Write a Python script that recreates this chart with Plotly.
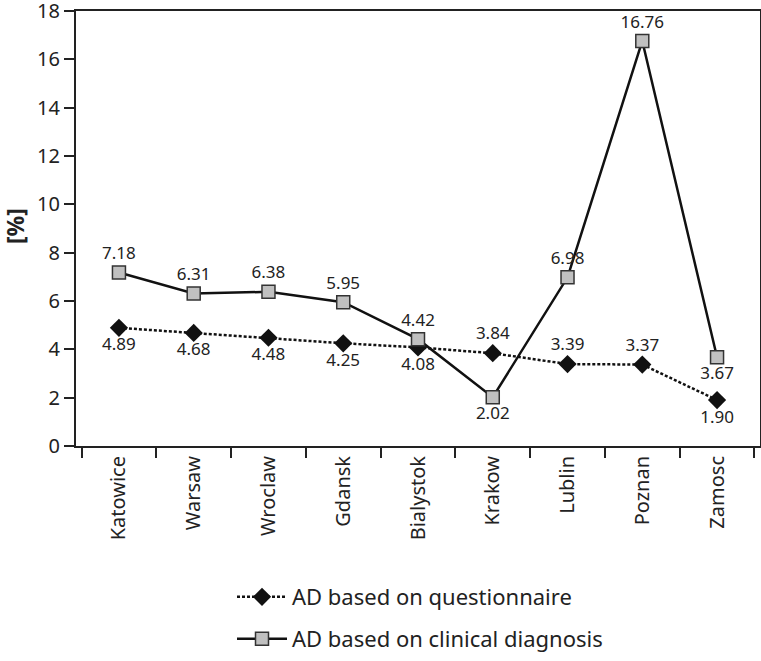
import plotly.graph_objects as go

cities = ["Katowice", "Warsaw", "Wroclaw", "Gdansk", "Bialystok", "Krakow", "Lublin", "Poznan", "Zamosc"]
questionnaire = [4.89, 4.68, 4.48, 4.25, 4.08, 3.84, 3.39, 3.37, 1.90]
clinical = [7.18, 6.31, 6.38, 5.95, 4.42, 2.02, 6.98, 16.76, 3.67]
y_ticks = [0, 2, 4, 6, 8, 10, 12, 14, 16, 18]

q_pos = ["bottom center"] * 5 + ["top center"] * 3 + ["bottom center"]
c_pos = ["top center"] * 5 + ["bottom center", "top center", "top center", "bottom center"]

FONT = "Noto Sans"
fig = go.Figure()
fig.add_trace(go.Scatter(
    x=cities, y=questionnaire, mode="lines+markers+text",
    name="AD based on questionnaire",
    line=dict(color="#111", width=2.5, dash="3px,2px"),
    marker=dict(symbol="diamond", size=14, color="#111"),
    text=[f"{v:.2f}" for v in questionnaire], textposition=q_pos,
    textfont=dict(size=17, color="#222", family=FONT),
    cliponaxis=False, legend="legend",
))
fig.add_trace(go.Scatter(
    x=cities, y=clinical, mode="lines+markers+text",
    name="AD based on clinical diagnosis",
    line=dict(color="#111", width=2.5),
    marker=dict(symbol="square", size=13, color="#c0c0c0", line=dict(color="#333", width=1.5)),
    text=[f"{v:.2f}" for v in clinical], textposition=c_pos,
    textfont=dict(size=17, color="#222", family=FONT),
    cliponaxis=False, legend="legend2",
))

fig.add_annotation(
    text="<b>[%]</b>", xref="paper", yref="paper",
    x=(15 - 76) / 684, y=(446 - 226) / 435, textangle=-90,
    showarrow=False, font=dict(size=23, family=FONT, color="#222"),
    xanchor="center", yanchor="middle",
)

fig.update_layout(
    width=761, height=661,
    margin=dict(l=76, r=1, t=11, b=215, autoexpand=False),
    paper_bgcolor="white", plot_bgcolor="white",
    font=dict(family=FONT, color="#222", size=18),
    showlegend=True,
    legend=dict(x=(232 - 76) / 684, y=(446 - 597) / 435, xanchor="left", yanchor="middle",
                itemwidth=50, font=dict(size=22, family=FONT), bgcolor="rgba(0,0,0,0)"),
    legend2=dict(x=(232 - 76) / 684, y=(446 - 639) / 435, xanchor="left", yanchor="middle",
                 itemwidth=50, font=dict(size=22, family=FONT), bgcolor="rgba(0,0,0,0)"),
    xaxis=dict(
        type="category", tickson="boundaries", ticks="outside", ticklen=10,
        tickcolor="#222", tickwidth=2, tickangle=-90, automargin=False,
        showline=True, linecolor="#222", linewidth=2, mirror=True,
        showgrid=False, tickfont=dict(size=20, family=FONT),
    ),
    yaxis=dict(
        range=[0, 18], tickvals=y_ticks, ticks="outside", ticklen=10,
        tickcolor="#222", tickwidth=2, automargin=False,
        showline=True, linecolor="#222", linewidth=2, mirror=True,
        showgrid=False, zeroline=False, tickfont=dict(size=20, family=FONT),
        ticklabeloverflow="allow",
    ),
)
fig.write_html(
    "out.html",
    config={"displayModeBar": False},
    post_script="document.body.style.margin='0';document.body.style.overflow='hidden';",
)
